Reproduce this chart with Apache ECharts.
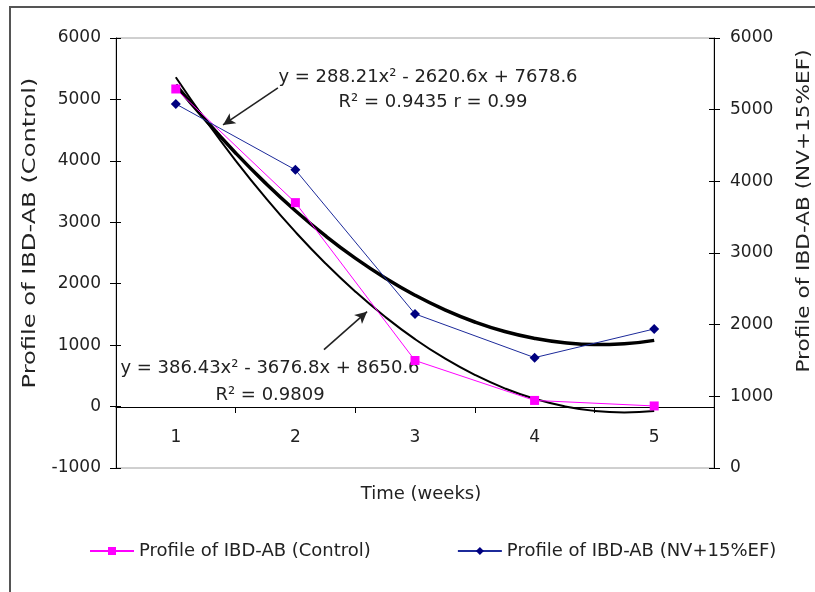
<!DOCTYPE html>
<html>
<head>
<meta charset="utf-8">
<script src="https://cdn.jsdelivr.net/npm/echarts@6/dist/echarts.min.js"></script>
<style>
  html, body { margin: 0; padding: 0; background: #fff; }
  #main { width: 815px; height: 592px; }
</style>
</head>
<body>
<div id="main"></div>
<script>
    // data
    var weeks = ['1', '2', '3', '4', '5'];
    var controlValues = [5170, 3320, 750, 100, 10];
    var nvValues = [5080, 4160, 2150, 1540, 1940];
    // polynomial trend lines
    var trendX = [1, 1.25, 1.5, 1.75, 2, 2.25, 2.5, 2.75, 3, 3.25, 3.5, 3.75, 4, 4.25, 4.5, 4.75, 5];
    var controlTrend = [5360, 4658, 4005, 3400, 2843, 2334, 1874, 1462, 1098, 783, 516, 297, 126, 4, -70, -95, -73];
    var nvTrend = [5346, 4853, 4396, 3975, 3590, 3241, 2928, 2652, 2411, 2206, 2037, 1904, 1808, 1747, 1722, 1734, 1781];

    var font = 'DejaVu Sans';
    var txt = '#222';

    function pairs(xs, ys) {
        var out = [];
        for (var i = 0; i < xs.length; i++) {
            out.push([xs[i], ys[i]]);
        }
        return out;
    }
    function plain(v) {
        return String(v);
    }

    var myChart = echarts.init(document.getElementById('main'));

    var option = {
        backgroundColor: '#fff',
        animation: false,
        grid: {
            left: 116, right: 101, top: 38, bottom: 124,
            show: true, borderColor: '#a0a0a0', borderWidth: 1
        },
        legend: {
            left: 84, top: 537,
            itemWidth: 44, itemHeight: 10, itemGap: 86,
            textStyle: {fontFamily: font, fontSize: 18, color: txt},
            data: ['Profile of IBD-AB (Control)', 'Profile of IBD-AB (NV+15%EF)']
        },
        xAxis: [
            {
                type: 'category',
                data: weeks,
                boundaryGap: true,
                position: 'bottom',
                // x axis sits on the zero line of the left axis (61px above the plot bottom)
                offset: -61,
                axisLine: {onZero: false, lineStyle: {color: '#000', width: 1}},
                axisTick: {show: true, interval: 0, length: 6, lineStyle: {color: '#000'}},
                axisLabel: {margin: 22, fontFamily: font, fontSize: 17, color: txt},
                splitLine: {show: false}
            },
            {
                type: 'value', min: 0.5, max: 5.5, show: false
            }
        ],
        yAxis: [
            {
                type: 'value', position: 'left',
                min: -1000, max: 6000, interval: 1000,
                axisLine: {show: true, onZero: false, lineStyle: {color: '#000'}},
                axisTick: {show: true, length: 6, lineStyle: {color: '#000'}},
                axisLabel: {margin: 15, fontFamily: font, fontSize: 17, color: txt, formatter: plain},
                splitLine: {show: false}
            },
            {
                type: 'value', position: 'right',
                min: 0, max: 6000, interval: 1000,
                axisLine: {show: true, onZero: false, lineStyle: {color: '#000'}},
                axisTick: {show: true, length: 6, lineStyle: {color: '#000'}},
                axisLabel: {margin: 16, fontFamily: font, fontSize: 17, color: txt, formatter: plain},
                splitLine: {show: false}
            },
            {
                // inner half of the crossing ticks
                type: 'value', position: 'left',
                min: -1000, max: 6000, interval: 1000,
                axisLine: {show: false},
                axisTick: {show: true, inside: true, length: 5, lineStyle: {color: '#000'}},
                axisLabel: {show: false},
                splitLine: {show: false}
            },
            {
                type: 'value', position: 'right',
                min: 0, max: 6000, interval: 1000,
                axisLine: {show: false},
                axisTick: {show: true, inside: true, length: 5, lineStyle: {color: '#000'}},
                axisLabel: {show: false},
                splitLine: {show: false}
            }
        ],
        series: [
            {
                name: 'control trend',
                type: 'line',
                xAxisIndex: 1, yAxisIndex: 0,
                data: pairs(trendX, controlTrend),
                smooth: true,
                showSymbol: false,
                silent: true,
                z: 2,
                lineStyle: {color: '#000', width: 2},
                markLine: {
                    silent: true,
                    symbol: ['none', 'arrow'],
                    symbolSize: [9, 12],
                    label: {show: false},
                    lineStyle: {color: '#222', width: 1.6, type: 'solid'},
                    data: [
                        [{coord: [1.854, 5187]}, {coord: [1.395, 4585]}],
                        [{coord: [2.239, 927]}, {coord: [2.599, 1545]}]
                    ]
                }
            },
            {
                name: 'nv trend',
                type: 'line',
                xAxisIndex: 1, yAxisIndex: 1,
                data: pairs(trendX, nvTrend),
                smooth: true,
                showSymbol: false,
                silent: true,
                z: 2,
                lineStyle: {color: '#000', width: 3.5}
            },
            {
                name: 'Profile of IBD-AB (Control)',
                type: 'line',
                xAxisIndex: 0, yAxisIndex: 0,
                data: controlValues,
                symbol: 'rect', symbolSize: 9,
                z: 3,
                itemStyle: {color: '#ff00ff'},
                lineStyle: {color: '#ff00ff', width: 1}
            },
            {
                name: 'Profile of IBD-AB (NV+15%EF)',
                type: 'line',
                xAxisIndex: 0, yAxisIndex: 1,
                data: nvValues,
                symbol: 'diamond', symbolSize: 10,
                z: 3,
                itemStyle: {color: '#000080'},
                lineStyle: {color: '#1c2a9a', width: 1}
            }
        ],
        graphic: [
            // outer frame (left and top edges)
            {type: 'polyline', silent: true,
             shape: {points: [[10, 592], [10, 7], [815, 7]]},
             style: {stroke: '#555', lineWidth: 2, fill: null}},
            // axis titles
            {type: 'text', x: 31, y: 233, rotation: Math.PI / 2, scaleX: 1.42, silent: true,
             style: {text: 'Profile of IBD-AB (Control)', font: '17px "DejaVu Sans"', fill: txt,
                     align: 'center', verticalAlign: 'middle'}},
            {type: 'text', x: 805, y: 211, rotation: Math.PI / 2, scaleX: 1.27, silent: true,
             style: {text: 'Profile of IBD-AB (NV+15%EF)', font: '17px "DejaVu Sans"', fill: txt,
                     align: 'center', verticalAlign: 'middle'}},
            {type: 'text', x: 421, y: 494, silent: true,
             style: {text: 'Time (weeks)', font: '18px "DejaVu Sans"', fill: txt,
                     align: 'center', verticalAlign: 'middle'}},
            // trend line equations
            {type: 'text', x: 428, y: 77, silent: true,
             style: {text: 'y = 288.21x² - 2620.6x + 7678.6', font: '18px "DejaVu Sans"', fill: txt,
                     align: 'center', verticalAlign: 'middle'}},
            {type: 'text', x: 433, y: 102, silent: true,
             style: {text: 'R² = 0.9435 r = 0.99', font: '18px "DejaVu Sans"', fill: txt,
                     align: 'center', verticalAlign: 'middle'}},
            {type: 'text', x: 270, y: 368, silent: true,
             style: {text: 'y = 386.43x² - 3676.8x + 8650.6', font: '18px "DejaVu Sans"', fill: txt,
                     align: 'center', verticalAlign: 'middle'}},
            {type: 'text', x: 270, y: 395, silent: true,
             style: {text: 'R² = 0.9809', font: '18px "DejaVu Sans"', fill: txt,
                     align: 'center', verticalAlign: 'middle'}}
        ]
    };

    myChart.setOption(option);
</script>
</body>
</html>
